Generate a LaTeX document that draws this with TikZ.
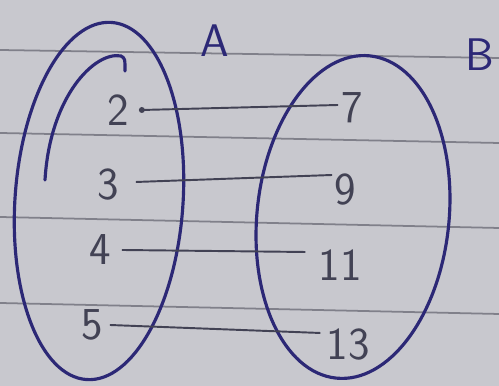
\documentclass[tikz,border=0pt]{standalone}
\usetikzlibrary{positioning}

\definecolor{paper}{RGB}{200,200,206}
\definecolor{rule}{RGB}{128,128,138}
\definecolor{ink}{RGB}{44,40,118}
\definecolor{pencil}{RGB}{66,66,84}

\begin{document}
\begin{tikzpicture}[
        rulebar/.style={rule, line width=1pt},
        setring/.style={ink, line width=1.8pt},
        elem/.style={pencil, font=\sffamily\fontsize{26}{30}\selectfont, inner sep=1pt},
        setname/.style={ink, font=\sffamily\fontsize{26}{30}\selectfont},
        conn/.style={pencil, line width=1.1pt}
    ]
        % paper and ruled lines
        \fill[paper] (0,0) rectangle (9.98,7.72);
        \useasboundingbox (0,0) rectangle (9.98,7.72);
        \draw[rulebar] (0,6.72) -- (9.98,6.56);
        \draw[rulebar] (0,5.06) -- (9.98,4.86);
        \draw[rulebar] (0,3.38) -- (9.98,3.16);
        \draw[rulebar] (0,1.66) -- (9.98,1.44);

        % the two sets
        \draw[setring, rotate around={-4:(1.98,3.70)}] (1.98,3.70) ellipse (1.68 and 3.58);
        \draw[setring, line cap=round] (0.9,4.12) .. controls (1.0,5.8) and (1.9,6.7) .. (2.42,6.6)
            .. controls (2.5,6.55) .. (2.5,6.3);
        \draw[setring, rotate around={-6:(7.06,3.38)}] (7.06,3.38) ellipse (1.92 and 3.24);

        \node[setname] (A) at (4.3,6.9) {A};
        \node[setname] (B) at (9.6,6.62) {B};

        % elements of A
        \node[elem] (a2) at (2.36,5.52) {2};
        \node[elem] (a3) at (2.16,4.02) {3};
        \node[elem] (a4) at (2.00,2.72) {4};
        \node[elem] (a5) at (1.84,1.22) {5};

        % elements of B
        \node[elem] (b7) at (7.04,5.56) {7};
        \node[elem] (b9) at (6.90,3.92) {9};
        \node[elem] (b11) at (6.80,2.42) {11};
        \node[elem] (b13) at (6.96,0.82) {13};

        % mapping
        \fill[pencil] ([xshift=0.22cm]a2.east) circle (0.06);
        \draw[conn] ([xshift=0.22cm]a2.east) -- ([xshift=-0.02cm,yshift=0.06cm]b7.west);
        \draw[conn] ([xshift=0.3cm,yshift=0.06cm]a3.east) -- ([yshift=0.3cm]b9.west);
        \draw[conn] ([xshift=0.18cm]a4.east) -- ([xshift=-0.22cm,yshift=0.26cm]b11.west);
        \draw[conn] ([xshift=0.1cm]a5.east) -- ([xshift=-0.08cm,yshift=0.24cm]b13.west);
    \end{tikzpicture}
\end{document}
